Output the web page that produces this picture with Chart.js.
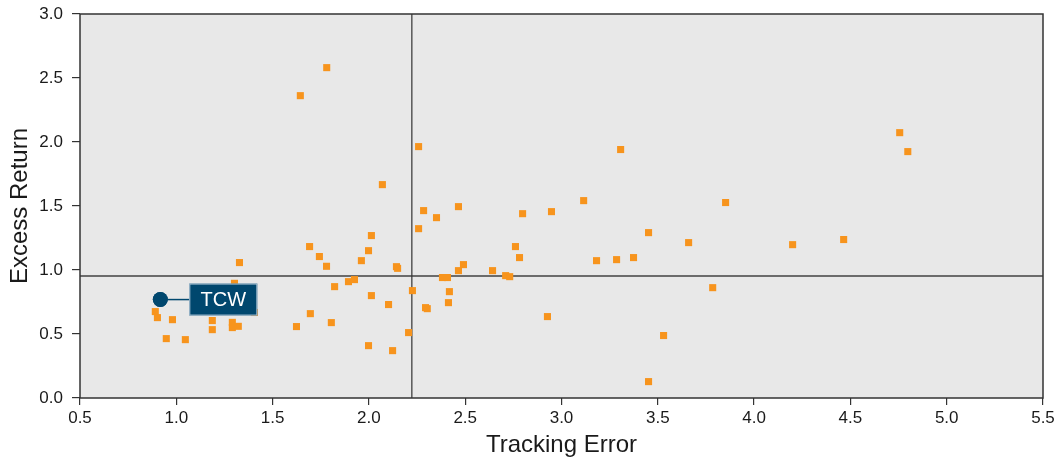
<!DOCTYPE html>
<html>
<head>
<meta charset="utf-8">
<script src="https://cdn.jsdelivr.net/npm/chart.js@4.4.1/dist/chart.umd.min.js"></script>
<style>
  html, body { margin: 0; padding: 0; background: #fff; }
  #wrap { width: 1057px; height: 460px; }
</style>
</head>
<body>
<div id="wrap"><canvas id="scatter" width="1057" height="460"></canvas></div>
<script>
// peer funds: tracking error vs excess return
const peerTE = [
  1.781, 1.644, 0.891, 0.902, 0.980, 0.948, 1.047, 1.187, 1.187, 1.291,
  1.291, 1.322, 1.328, 1.302, 1.405, 1.692, 1.743, 1.780, 1.822, 1.696,
  1.624, 1.805, 1.894, 1.925, 1.998, 1.961, 2.143, 2.149, 2.226, 2.013,
  2.102, 1.998, 2.123, 2.206, 2.284, 2.258, 2.013, 2.294, 2.303, 2.258,
  2.070, 2.351, 2.465, 2.491, 2.465, 2.642, 2.710, 2.731, 2.761, 2.782,
  2.798, 2.948, 3.115, 3.307, 3.452, 3.182, 3.286, 3.374, 3.660, 2.382,
  2.408, 2.418, 2.413, 2.927, 3.530, 3.452, 4.756, 4.798, 3.852, 4.200,
  4.465, 3.785
];
const peerER = [
  2.581, 2.362, 0.675, 0.628, 0.612, 0.464, 0.456, 0.605, 0.534, 0.591,
  0.550, 0.560, 1.058, 0.896, 0.668, 1.183, 1.105, 1.029, 0.870, 0.659,
  0.558, 0.589, 0.909, 0.925, 1.151, 1.073, 1.026, 1.013, 0.839, 0.800,
  0.730, 0.409, 0.370, 0.511, 1.464, 1.323, 1.269, 0.706, 0.698, 1.964,
  1.667, 1.409, 1.495, 1.042, 0.995, 0.995, 0.956, 0.948, 1.183, 1.097,
  1.440, 1.456, 1.542, 1.941, 1.292, 1.073, 1.081, 1.097, 1.214, 0.941,
  0.941, 0.831, 0.745, 0.636, 0.488, 0.128, 2.073, 1.925, 1.527, 1.198,
  1.238, 0.862
];

// the highlighted fund
const fundName = 'TCW';
const fundTE = 0.917;
const fundER = 0.769;

// reference lines (peer medians)
const medianTE = 2.223;
const medianER = 0.953;

const xRange = [0.5, 5.5];
const yRange = [0.0, 3.0];
const tickStep = 0.5;

const ORANGE = '#F7941D';
const NAVY = '#00476E';
const FONT = 'Arial, "Liberation Sans", sans-serif';

let peers = peerTE.map((te, i) => ({ x: te, y: peerER[i] }));

// grey plot background + frame
const plotFrame = {
  id: 'plotFrame',
  beforeDatasetsDraw(chart) {
    const a = chart.chartArea, ctx = chart.ctx;
    ctx.save();
    ctx.fillStyle = '#E8E8E8';
    ctx.fillRect(a.left, a.top, a.right - a.left, a.bottom - a.top);
    ctx.restore();
  },
  afterDraw(chart) {
    const a = chart.chartArea, ctx = chart.ctx;
    ctx.save();
    ctx.strokeStyle = '#333';
    ctx.lineWidth = 1.5;
    ctx.strokeRect(a.left, a.top, a.right - a.left, a.bottom - a.top);
    ctx.restore();
  }
};

// callout box for the fund
const fundLabel = {
  id: 'fundLabel',
  afterDatasetsDraw(chart) {
    const ctx = chart.ctx;
    const px = chart.scales.x.getPixelForValue(fundTE);
    const py = chart.scales.y.getPixelForValue(fundER);
    const bx = px + 29, bw = 68, bh = 32;
    ctx.save();
    ctx.strokeStyle = NAVY;
    ctx.lineWidth = 1.5;
    ctx.beginPath();
    ctx.moveTo(px, py);
    ctx.lineTo(bx, py);
    ctx.stroke();
    ctx.fillStyle = NAVY;
    ctx.fillRect(bx, py - bh / 2, bw, bh);
    ctx.strokeStyle = 'rgba(190,210,225,0.9)';
    ctx.lineWidth = 1;
    ctx.strokeRect(bx + 0.5, py - bh / 2 + 0.5, bw - 1, bh - 1);
    ctx.fillStyle = '#fff';
    ctx.font = '20px ' + FONT;
    ctx.textAlign = 'center';
    ctx.textBaseline = 'middle';
    ctx.fillText(fundName, bx + bw / 2, py + 1);
    // redraw the dot over the connector
    ctx.fillStyle = NAVY;
    ctx.beginPath();
    ctx.arc(px, py, 7.5, 0, Math.PI * 2);
    ctx.fill();
    ctx.restore();
  }
};

const config = {
  type: 'scatter',
  data: {
    datasets: [
      {
        label: fundName,
        data: [{ x: fundTE, y: fundER }],
        pointStyle: 'circle',
        pointRadius: 7.5,
        backgroundColor: NAVY,
        borderWidth: 0
      },
      {
        label: 'Peers',
        data: peers,
        pointStyle: 'rect',
        pointRadius: 5,
        backgroundColor: ORANGE,
        borderWidth: 0
      },
      {
        label: 'medianTE',
        data: [{ x: medianTE, y: yRange[0] }, { x: medianTE, y: yRange[1] }],
        showLine: true,
        borderColor: '#333',
        borderWidth: 1.2,
        pointRadius: 0
      },
      {
        label: 'medianER',
        data: [{ x: xRange[0], y: medianER }, { x: xRange[1], y: medianER }],
        showLine: true,
        borderColor: '#6b6b6b',
        borderWidth: 2,
        pointRadius: 0
      }
    ]
  },
  options: {
    responsive: false,
    animation: false,
    layout: { padding: { top: 14, right: 14, left: 0, bottom: 0 } },
    plugins: {
      legend: { display: false },
      tooltip: { enabled: false }
    },
    scales: {
      x: {
        type: 'linear',
        min: xRange[0],
        max: xRange[1],
        ticks: {
          stepSize: tickStep,
          color: '#1a1a1a',
          padding: 3,
          font: { family: FONT, size: 17 },
          callback: v => v.toFixed(1)
        },
        grid: { drawOnChartArea: false, drawTicks: true, tickLength: 7, color: '#333', lineWidth: 1.2 },
        border: { display: false },
        title: {
          display: true,
          text: 'Tracking Error',
          color: '#1a1a1a',
          padding: { top: 2, bottom: 0 },
          font: { family: FONT, size: 24 }
        },
        afterFit(scale) {
          scale.height = 62;
          scale.paddingLeft = 0;
          scale.paddingRight = 0;
        }
      },
      y: {
        type: 'linear',
        min: yRange[0],
        max: yRange[1],
        ticks: {
          stepSize: tickStep,
          color: '#1a1a1a',
          padding: 9,
          font: { family: FONT, size: 17 },
          callback: v => v.toFixed(1)
        },
        grid: { drawOnChartArea: false, drawTicks: true, tickLength: 8, color: '#333', lineWidth: 1.2 },
        border: { display: false },
        title: {
          display: true,
          text: 'Excess Return',
          color: '#1a1a1a',
          padding: { top: 6, bottom: 0 },
          font: { family: FONT, size: 24 }
        },
        afterFit(scale) {
          scale.width = 80;
          scale.paddingTop = 0;
          scale.paddingBottom = 0;
        }
      }
    }
  },
  plugins: [plotFrame, fundLabel]
};

new Chart(document.getElementById('scatter'), config);
</script>
</body>
</html>
